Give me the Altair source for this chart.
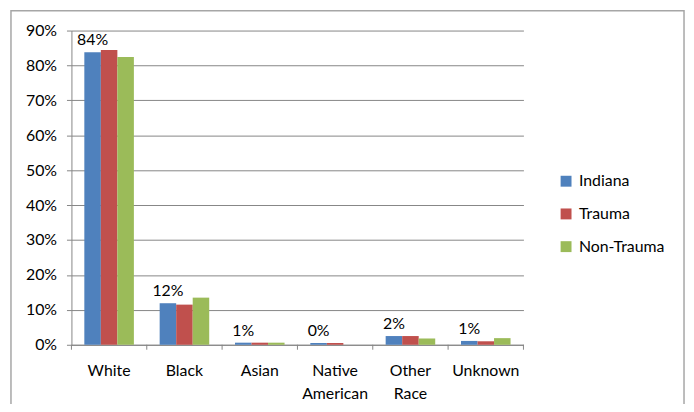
import altair as alt
import pandas as pd

categories = ["White", "Black", "Asian", "Native American", "Other Race", "Unknown"]
series = ["Indiana", "Trauma", "Non-Trauma"]
indiana = [0.838, 0.119, 0.006, 0.005, 0.025, 0.011]
trauma = [0.844, 0.115, 0.006, 0.005, 0.025, 0.010]
non_trauma = [0.824, 0.135, 0.006, 0.000, 0.018, 0.019]
label_text = ["84%", "12%", "1%", "0%", "2%", "1%"]
y_ticks = [0, 0.1, 0.2, 0.3, 0.4, 0.5, 0.6, 0.7, 0.8, 0.9]
colors = ["#4F81BD", "#C0504D", "#9BBB59"]

rows = []
for i, c in enumerate(categories):
    for s, vals in zip(series, [indiana, trauma, non_trauma]):
        rows.append({"cat": c, "series": s, "value": vals[i]})
df = pd.DataFrame(rows)
lab = pd.DataFrame({"cat": categories, "series": ["Indiana"] * 6, "value": indiana, "text": label_text})

FONT = "Lato"
FS = 16
W, H = 456, 317

xenc = alt.X("cat:N", sort=categories, title=None,
             scale=alt.Scale(paddingInner=0, paddingOuter=0),
             axis=alt.Axis(labelExpr="split(datum.label, ' ')", ticks=False, labelPadding=18,
                           labelAngle=0, domainColor="#868686", labelColor="#000",
                           labelFontSize=FS, labelLineHeight=23, labelFont=FONT, labelBaseline="top"))
xoff = alt.XOffset("series:N", sort=series, scale=alt.Scale(paddingInner=0, paddingOuter=0.78))
yenc = alt.Y("value:Q", title=None,
             scale=alt.Scale(domain=[0, 0.9], nice=False),
             axis=alt.Axis(values=y_ticks, tickCount=10, labelOverlap=False, format=".0%",
                           tickSize=5, tickColor="#868686",
                           domainColor="#868686", gridColor="#868686", labelPadding=10,
                           labelFontSize=FS, labelFont=FONT, labelColor="#000"))

bars = alt.Chart(df).mark_bar().encode(
    x=xenc, xOffset=xoff, y=yenc,
    color=alt.Color("series:N", sort=series,
                    scale=alt.Scale(domain=series, range=colors),
                    legend=alt.Legend(title=None, orient="none", legendX=491, legendY=144,
                                      symbolType="square", symbolSize=121, symbolStrokeWidth=0,
                                      labelFontSize=FS, labelFont=FONT, labelColor="#000",
                                      rowPadding=17, labelOffset=5)),
)

labels = alt.Chart(lab).mark_text(baseline="bottom", dy=-4, fontSize=FS, font=FONT, color="#000").encode(
    x=alt.X("cat:N", sort=categories), xOffset=alt.XOffset("series:N", sort=series), y="value:Q", text="text:N")

tick_df = pd.DataFrame({"cat": categories})
ticks = alt.Chart(tick_df).mark_rule(color="#868686").encode(
    x=alt.X("cat:N", sort=categories, bandPosition=0), y=alt.value(H), y2=alt.value(H + 5))
end_tick = alt.Chart(tick_df.head(1)).mark_rule(color="#868686").encode(
    x=alt.value(W), y=alt.value(H), y2=alt.value(H + 5))

border = alt.Chart(tick_df.head(1)).mark_rect(fill=None, stroke="#A6A6A6", strokeWidth=1.5).encode(
    x=alt.value(-61), x2=alt.value(618), y=alt.value(-20), y2=alt.value(420))

chart = alt.layer(border, bars, labels, ticks, end_tick).properties(
    width=W, height=H,
    padding={"left": 64, "top": 21, "right": 164, "bottom": 58},
    autosize=alt.AutoSizeParams(type="none"),
).configure_view(stroke=None).configure_axisY(domain=True)

chart.save("out.html", embed_options={"renderer": "svg", "actions": False})
